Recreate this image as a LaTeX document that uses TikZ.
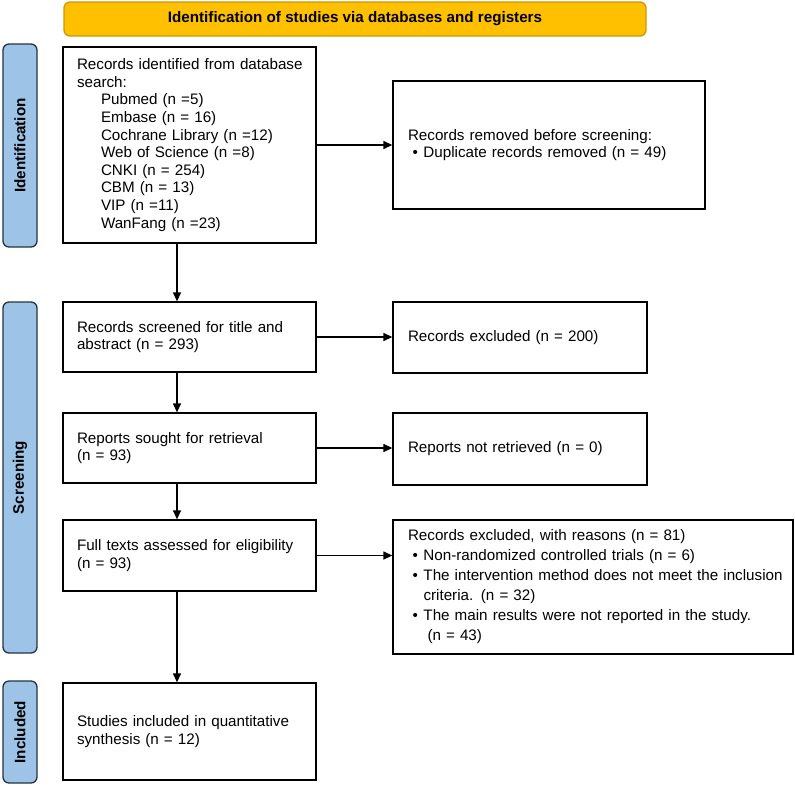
\documentclass[tikz,border=0pt]{standalone}
\usepackage{fontspec}
\setmainfont{Liberation Sans}
\usetikzlibrary{arrows.meta}
\definecolor{bannerfill}{HTML}{FFC000}
\definecolor{bannerdraw}{HTML}{C9980A}
\definecolor{sidefill}{HTML}{9DC3E6}
\definecolor{sidedraw}{HTML}{243342}
\newcommand{\myl}[1]{\mbox{#1}}
\newcommand{\bul}{\hspace*{4.5pt}\makebox[11pt][l]{•}}
\newcommand{\cont}{\hspace*{15.5pt}}
\begin{document}
\begin{tikzpicture}[x=1pt,y=-1pt,
  box/.style={draw=black, line width=1.3pt, rectangle, inner sep=0pt, align=left,
    font=\fontsize{15.2}{17.6}\selectfont, fill=white},
  side/.style={draw=sidedraw, fill=sidefill, line width=1.3pt, rounded corners=6pt,
    rotate=90, inner sep=0pt, minimum height=34pt, font=\bfseries\fontsize{15.2}{17.6}\selectfont},
  banner/.style={draw=bannerdraw, fill=bannerfill, line width=1.3pt, rounded corners=6pt,
    inner sep=0pt, font=\bfseries\fontsize{15.2}{17.6}\selectfont},
  arr/.style={line width=1.3pt, -{Triangle[length=9pt,width=8pt]}}]
\useasboundingbox (0,0) rectangle (795,785);

\node[banner, minimum width=582pt, minimum height=34pt] (ban) at (355,19)
  {Identification of studies via databases and registers};

\node[side, minimum width=203pt] (sid) at (20,145.5) {Identification};
\node[side, minimum width=351pt] (sscr) at (20,477.5) {Screening};
\node[side, minimum width=102pt] (sinc) at (20,732) {Included};

\node[box, minimum width=253pt, minimum height=196pt, text width=225pt] (b1) at (189.5,145)
  {\myl{Records identified from database}\\search:\\
   \hspace*{24pt}Pubmed (n =5)\\
   \hspace*{24pt}Embase (n = 16)\\
   \hspace*{24pt}Cochrane Library (n =12)\\
   \hspace*{24pt}Web of Science (n =8)\\
   \hspace*{24pt}CNKI (n = 254)\\
   \hspace*{24pt}CBM (n = 13)\\
   \hspace*{24pt}VIP (n =11)\\
   \hspace*{24pt}WanFang (n =23)};

\node[box, minimum width=253pt, minimum height=70pt, text width=225pt] (b2) at (189.5,337)
  {\myl{Records screened for title and}\\abstract (n = 293)};
\node[box, minimum width=253pt, minimum height=70pt, text width=225pt] (b3) at (189.5,448)
  {Reports sought for retrieval\\(n = 93)};
\node[box, minimum width=253pt, minimum height=71pt, text width=225pt] (b4) at (189.5,555.5)
  {\myl{Full texts assessed for eligibility}\\(n = 93)};
\node[box, minimum width=253pt, minimum height=97pt, text width=225pt] (b5) at (189.5,731.5)
  {\myl{Studies included in quantitative}\\synthesis (n = 12)};

\node[box, minimum width=312pt, minimum height=128pt, text width=282pt] (r1) at (549,145)
  {\myl{Records removed before screening:}\\\bul\myl{Duplicate records removed (n = 49)}};
\node[box, minimum width=254pt, minimum height=71pt, text width=224pt] (r2) at (520,337.5)
  {Records excluded (n = 200)};
\node[box, minimum width=254pt, minimum height=72pt, text width=224pt] (r3) at (520,449)
  {Reports not retrieved (n = 0)};
\node[box, minimum width=400pt, minimum height=134pt, text width=370pt,
      font=\fontsize{15.2}{20}\selectfont] (r4) at (593,587)
  {\myl{Records excluded, with reasons (n = 81)}\\
   \bul\myl{Non-randomized controlled trials (n = 6)}\\
   \bul\myl{The intervention method does not meet the inclusion}\\
   \cont\myl{criteria. (n = 32)}\\
   \bul\myl{The main results were not reported in the study.}\\
   \hspace*{19.5pt}\myl{(n = 43)}};

\coordinate (ax) at (177,0);
\draw[arr] (b1.south -| ax) -- (b2.north -| ax);
\draw[arr] (b2.south -| ax) -- (b3.north -| ax);
\draw[arr] (b3.south -| ax) -- (b4.north -| ax);
\draw[arr] (b4.south -| ax) -- (b5.north -| ax);
\draw[arr] (b1.east) -- (b1.east -| r1.west);
\draw[arr] (b2.east) -- (b2.east -| r2.west);
\draw[arr] (b3.east) -- (b3.east -| r3.west);
\draw[arr] (b4.east) -- (b4.east -| r4.west);
\end{tikzpicture}
\end{document}
